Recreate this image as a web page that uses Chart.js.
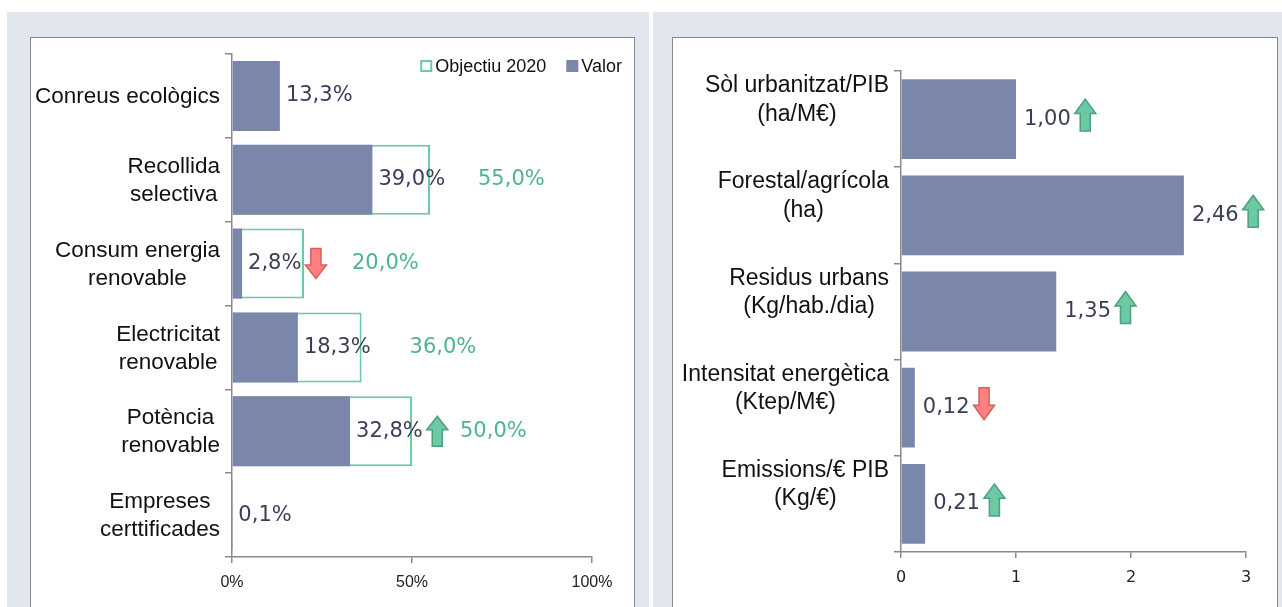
<!DOCTYPE html>
<html><head><meta charset="utf-8">
<script src="https://cdn.jsdelivr.net/npm/chart.js@4/dist/chart.umd.min.js"></script>
<style>
html,body{margin:0;padding:0;background:#fff;width:1282px;height:607px;overflow:hidden}
.panel{position:absolute;background:#e2e6ee}
.box{position:absolute;background:#fff;border:1.5px solid #8a8a8a;box-sizing:border-box}
.wrap{position:absolute}
</style></head><body>
<div class="panel" style="left:7px;top:12px;width:642px;height:600px"></div>
<div class="panel" style="left:653px;top:12px;width:629px;height:600px"></div>
<div class="box" style="left:30px;top:37px;width:605px;height:590px"></div>
<div class="box" style="left:672px;top:37px;width:606px;height:590px"></div>
<div class="wrap" style="left:31px;top:38px;width:603px;height:569px"><canvas id="c1"></canvas></div>
<div class="wrap" style="left:673px;top:38px;width:604px;height:569px"><canvas id="c2"></canvas></div>
<script>
// ---- data ----
const leftCategories = [["Conreus ecològics"],["Recollida","selectiva"],["Consum energia","renovable"],["Electricitat","renovable"],["Potència","renovable"],["Empreses","certtificades"]];
const leftValor = [13.3, 39.0, 2.8, 18.3, 32.8, 0.1];
const leftObjectiu = [null, 55.0, 20.0, 36.0, 50.0, null];
const leftTrend = [null, null, "down", null, "up", null];
const leftAxisMax = 100;
const leftAxisStep = 50;
const leftSeriesNames = ["Valor", "Objectiu 2020"];

const rightCategories = [["Sòl urbanitzat/PIB","(ha/M€)"],["Forestal/agrícola","(ha)"],["Residus urbans","(Kg/hab./dia)"],["Intensitat energètica","(Ktep/M€)"],["Emissions/€ PIB","(Kg/€)"]];
const rightValor = [1.00, 2.46, 1.35, 0.12, 0.21];
const rightTrend = ["up","up","up","down","up"];
const rightAxisMax = 3;
const rightAxisStep = 1;

// ---- styles ----
const BAR = '#7b87aa', OBJ = '#67cba6', OBJTXT = '#4db58b', VALTXT = '#3a3e57';
const CATFONT = "'Liberation Sans',Arial,sans-serif";
const VALFONT = "'DejaVu Sans',Verdana,sans-serif";

function drawArrow(ctx, x, cy, dir, w, h) {
  const sw = w * 0.48, hh = h * 0.45;
  const top = cy - h / 2, bot = cy + h / 2, mx = x + w / 2;
  ctx.beginPath();
  if (dir === 'up') {
    ctx.moveTo(mx, top); ctx.lineTo(x + w, top + hh); ctx.lineTo(mx + sw / 2, top + hh);
    ctx.lineTo(mx + sw / 2, bot); ctx.lineTo(mx - sw / 2, bot); ctx.lineTo(mx - sw / 2, top + hh);
    ctx.lineTo(x, top + hh);
  } else {
    ctx.moveTo(mx, bot); ctx.lineTo(x + w, bot - hh); ctx.lineTo(mx + sw / 2, bot - hh);
    ctx.lineTo(mx + sw / 2, top); ctx.lineTo(mx - sw / 2, top); ctx.lineTo(mx - sw / 2, bot - hh);
    ctx.lineTo(x, bot - hh);
  }
  ctx.closePath();
  ctx.fillStyle = dir === 'up' ? '#6bcaa4' : '#ff8080';
  ctx.strokeStyle = dir === 'up' ? '#4f9f7f' : '#d4605f';
  ctx.lineWidth = 1.5;
  ctx.fill(); ctx.stroke();
}

const catLabelsPlugin = {
  id: 'catLabels',
  afterDraw(chart, args, o) {
    const ctx = chart.ctx, ys = chart.scales.y;
    ctx.save();
    ctx.font = o.font; ctx.fillStyle = '#111'; ctx.textAlign = 'center'; ctx.textBaseline = 'middle';
    o.labels.forEach((lines, i) => {
      const cy = ys.getPixelForValue(i) + o.dy;
      const bw = Math.max(...lines.map(l => ctx.measureText(l).width));
      const cx = ys.right - o.gap - bw / 2;
      const y0 = cy - (lines.length - 1) * o.lineH / 2;
      lines.forEach((l, k) => ctx.fillText(l, cx, y0 + k * o.lineH));
    });
    ctx.restore();
  }
};

const valueLabelsPlugin = {
  id: 'valueLabels',
  afterDatasetsDraw(chart, args, o) {
    const ctx = chart.ctx;
    ctx.save();
    ctx.font = o.font; ctx.textBaseline = 'middle'; ctx.textAlign = 'left';
    const valMeta = chart.getDatasetMeta(0);
    const vals = chart.data.datasets[0].data;
    valMeta.data.forEach((el, i) => {
      if (vals[i] == null) return;
      const t = o.fmt(vals[i]);
      const x = el.x + o.gap;
      ctx.fillStyle = VALTXT;
      ctx.fillText(t, x, el.y);
      const tr = o.trend[i];
      if (tr) drawArrow(ctx, x + ctx.measureText(t).width + o.arrowGap, el.y + o.arrowDy, tr, o.arrowW, o.arrowH);
    });
    if (chart.data.datasets.length > 1) {
      const objMeta = chart.getDatasetMeta(1);
      const objs = chart.data.datasets[1].data;
      objMeta.data.forEach((el, i) => {
        if (objs[i] == null) return;
        ctx.fillStyle = OBJTXT;
        ctx.fillText(o.fmt(objs[i]), el.x + o.objGap, el.y);
      });
    }
    ctx.restore();
  }
};

const legendPlugin = {
  id: 'customLegend',
  afterDraw(chart, args, o) {
    if (!o.items) return;
    const ctx = chart.ctx;
    ctx.save();
    ctx.font = o.font; ctx.textBaseline = 'middle'; ctx.textAlign = 'left';
    const box = 12, g = 3, ig = 20;
    const widths = o.items.map(it => box + g + ctx.measureText(it.text).width);
    const total = widths.reduce((a, b) => a + b, 0) + ig * (o.items.length - 1);
    let x = chart.width - o.right - total;
    o.items.forEach((it, k) => {
      if (it.outline) {
        ctx.fillStyle = '#fff'; ctx.fillRect(x, o.y - box / 2, box, box);
        ctx.strokeStyle = it.color; ctx.lineWidth = 2; ctx.strokeRect(x + 1, o.y - box / 2 + 1, box - 2, box - 2);
      } else {
        ctx.fillStyle = it.color; ctx.fillRect(x, o.y - box / 2, box, box);
      }
      ctx.fillStyle = '#111';
      ctx.fillText(it.text, x + box + g, o.y + 1);
      x += widths[k] + ig;
    });
    ctx.restore();
  }
};

Chart.register(catLabelsPlugin, valueLabelsPlugin, legendPlugin);

function axisCommon(extra) {
  return Object.assign({
    grid: { drawOnChartArea: false, drawTicks: true, tickLength: 6, color: '#8a8a8a', lineWidth: 1.5 },
    border: { color: '#8a8a8a', width: 1.5 }
  }, extra);
}

// ---- left chart ----
new Chart(document.getElementById('c1'), {
  type: 'bar',
  data: {
    labels: leftCategories,
    datasets: [
      { label: leftSeriesNames[0], data: leftValor, backgroundColor: BAR, borderWidth: 0, grouped: false, order: 0,
        categoryPercentage: 1, barPercentage: 0.835 },
      { label: leftSeriesNames[1], data: leftObjectiu, backgroundColor: '#fff', borderColor: OBJ, borderWidth: 2,
        borderSkipped: false, grouped: false, order: 1, categoryPercentage: 1, barPercentage: 0.835 }
    ]
  },
  options: {
    indexAxis: 'y', responsive: true, maintainAspectRatio: false, animation: false, events: [],
    layout: { padding: { top: 16, right: 42, left: 0, bottom: 0 } },
    scales: {
      y: axisCommon({ grid: { offset: true, drawOnChartArea: false, tickLength: 7, color: '#8a8a8a', lineWidth: 1.5 },
        ticks: { display: false }, afterFit(s) { s.width = 201; } }),
      x: axisCommon({ min: 0, max: leftAxisMax,
        ticks: { stepSize: leftAxisStep, padding: 10, color: '#222', font: { family: "'Liberation Sans',Arial,sans-serif", size: 16 },
          callback: v => v + '%' },
        afterFit(s) { s.height = 50; } })
    },
    plugins: {
      legend: { display: false }, tooltip: { enabled: false },
      catLabels: { labels: leftCategories, font: "22.5px " + CATFONT, gap: 12, lineH: 28, dy: 1 },
      valueLabels: { font: "21px " + VALFONT, fmt: v => v.toFixed(1).replace('.', ',') + '%', gap: 6, objGap: 48,
        trend: leftTrend, arrowGap: 4, arrowW: 21, arrowH: 30, arrowDy: 0 },
      customLegend: { items: [{ text: leftSeriesNames[1], color: OBJ, outline: true }, { text: leftSeriesNames[0], color: BAR }],
        font: "18px " + CATFONT, right: 12, y: 28 }
    }
  }
});

// ---- right chart ----
new Chart(document.getElementById('c2'), {
  type: 'bar',
  data: {
    labels: rightCategories,
    datasets: [
      { label: 'Valor', data: rightValor, backgroundColor: BAR, borderWidth: 0, categoryPercentage: 1, barPercentage: 0.83 }
    ]
  },
  options: {
    indexAxis: 'y', responsive: true, maintainAspectRatio: false, animation: false, events: [],
    layout: { padding: { top: 33, right: 31, left: 0, bottom: 0 } },
    scales: {
      y: axisCommon({ grid: { offset: true, drawOnChartArea: false, tickLength: 7, color: '#8a8a8a', lineWidth: 1.5 },
        ticks: { display: false }, afterFit(s) { s.width = 228; } }),
      x: axisCommon({ min: 0, max: rightAxisMax,
        ticks: { stepSize: rightAxisStep, padding: 10, color: '#222', font: { family: "'DejaVu Sans',sans-serif", size: 16 } },
        afterFit(s) { s.height = 55; } })
    },
    plugins: {
      legend: { display: false }, tooltip: { enabled: false },
      catLabels: { labels: rightCategories, font: "23px " + CATFONT, gap: 12, lineH: 28.5, dy: -19 },
      valueLabels: { font: "21px " + VALFONT, fmt: v => v.toFixed(2).replace('.', ','), gap: 8,
        trend: rightTrend, arrowGap: 4, arrowW: 21, arrowH: 32, arrowDy: -4 }
    }
  }
});
</script>
</body></html>
